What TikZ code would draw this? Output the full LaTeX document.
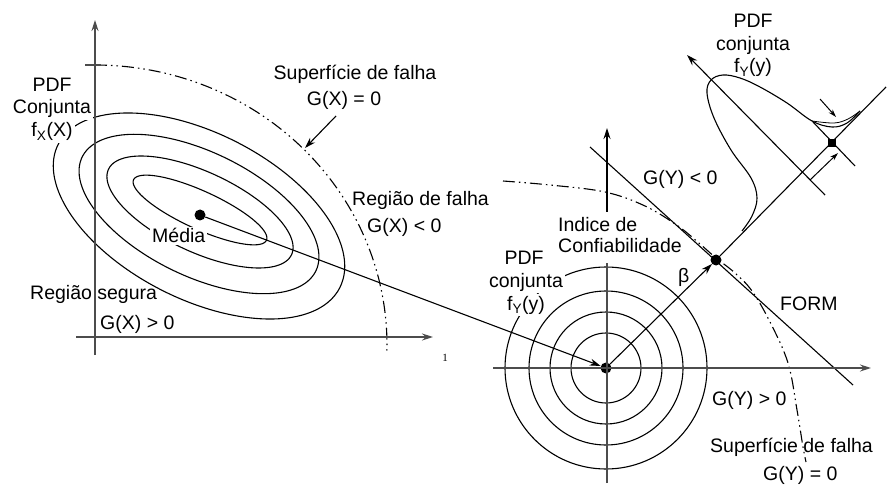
\documentclass[tikz,border=0pt]{standalone}
\usepackage{fontspec}
\setmainfont{Liberation Sans}
\newfontfamily\seriffont{Liberation Serif}
\usetikzlibrary{arrows.meta}
\begin{document}
\begin{tikzpicture}[x=1pt,y=-1pt,
  txt/.style={font=\fontsize{19.5}{22.5}\selectfont, inner sep=0pt, anchor=base},
  txtw/.style={txt, anchor=base west},
  wbox/.style={fill=white, inner sep=2pt},
  curve/.style={line width=1.1pt},
  ax/.style={line width=1.3pt, black!70},
  arr/.style={-{Stealth[length=11pt,width=7pt]}},
  sarr/.style={-{Stealth[length=8pt,width=5pt]}},
  ddd/.style={line width=1.1pt, dash pattern=on 12pt off 4pt on 1.5pt off 4pt on 1.5pt off 4pt},
  bigdot/.style={circle, fill=black, inner sep=0pt, minimum size=11pt},
]
\useasboundingbox (0,0) rectangle (888,486);

% ---------- left panel: joint PDF contours ----------
\foreach \cx/\cy/\a/\b/\r in {199/216/158/83/27, 199/214/130/62/26, 200/212/101/40/25, 200/210/73/19/24.5}
  \draw[curve] plot[domain=0:360, samples=120, smooth, variable=\t]
    ({\cx + \a*cos(\t)*cos(\r) - \b*sin(\t)*sin(\r)}, {\cy + \a*cos(\t)*sin(\r) + \b*sin(\t)*cos(\r)}) -- cycle;

% failure surface G(X)=0
\draw[ddd] plot[domain=-90:1.5, samples=60, smooth, variable=\t] ({95 + 292*cos(\t)}, {345 + 280*sin(\t)});

% ---------- right panel: standard normal contours ----------
\node[bigdot] (O) at (606,368) {};
\foreach \r in {35,56,77,101} \draw[curve] (O.center) circle[radius=\r];

% labels that interrupt curves
\node[txt, wbox] (pdfA) at (52,92) {PDF};
\node[txt, wbox] (pdfB) at (52,114) {Conjunta};
\node[txt, wbox] (pdfC) at (52,137) {f\textsubscript{X}(X)};
\node[txtw, wbox] (media) at (150,243) {Média};
\node[txt, wbox] (rpdfA) at (524,265) {PDF};
\node[txt, wbox] (rpdfB) at (526,287) {conjunta};
\node[txt, wbox] (rpdfC) at (526,310) {f\textsubscript{Y}(y)};

% other labels, left
\node[txt] (sup1) at (355,80) {Superfície de falha};
\node[txt] (g1) at (344,106) {G(X) = 0};
\node[txtw] (rf1) at (352,206) {Região de falha};
\node[txtw] (g2) at (367,233) {G(X) < 0};
\node[txtw] (rs) at (30,299) {Região segura};
\node[txtw] (g3) at (100,329) {G(X) > 0};
\node[font=\seriffont\fontsize{11}{12}\selectfont, anchor=base, inner sep=0pt] (one) at (445,361) {1};

% other labels, right
\node[txt] (tpdfA) at (753,28) {PDF};
\node[txt] (tpdfB) at (753,51) {conjunta};
\node[txt] (tpdfC) at (753,73) {f\textsubscript{Y}(y)};
\node[txtw] (gy1) at (643,185) {G(Y) < 0};
\node[txtw] (ind1) at (558,232) {Indice de};
\node[txtw] (ind2) at (558,252) {Confiabilidade};
\node[txtw] (beta) at (678,282) {β};
\node[txtw] (form) at (780,310) {FORM};
\node[txtw] (gy2) at (712,405) {G(Y) > 0};
\node[txtw] (sup2) at (710,452) {Superfície de falha};
\node[txtw] (gy3) at (763,480) {G(Y) = 0};

% pointer to failure surface
\coordinate (ptA) at (336,116);
\coordinate (ptB) at (305,148);
\draw[curve, arr] (ptA) -- (ptB);

% mean and transformation arrow
\node[bigdot] (M) at (200,215) {};
\draw[curve, arr] (M) -- (O);

% design point and beta
\node[bigdot] (P) at (716,260) {};
\coordinate (bend) at (886,87);
\draw[curve, arr] (O) -- (P);
\draw[curve] (P) -- (bend);

% FORM tangent
\coordinate (f1) at (590,147);
\coordinate (f2) at (853,385);
\draw[curve] (f1) -- (f2);

% failure surface G(Y)=0
\draw[ddd] plot[smooth, tension=0.6] coordinates {(503,181) (550,185) (605,192) (645,206) (678,226) (700,244) (716,258) (735,273) (752,291) (770,322) (788,363) (797,410) (803,447) (806,462)};

% PDF along beta direction
\draw[curve] plot[smooth, tension=0.6] coordinates {(742,231) (752,216) (757,198) (751,178) (731,150) (714,118) (707,93) (711,80) (723,75) (740,78) (760,87) (787,103) (812,121) (832,127) (847,123) (860,111)};
\draw[line width=0.8pt] plot[smooth, tension=0.6] coordinates {(812,121) (834,123) (848,119) (860,111)};
\coordinate (da1) at (825,195);
\coordinate (da2) at (687,55);
\draw[curve, arr] (da1) -- (da2);
\node[fill=black, rectangle, inner sep=0pt, minimum size=8pt] (Q) at (832,143) {};
\coordinate (s1) at (813,122);
\coordinate (s2) at (855,166);
\draw[curve] (s1) -- (s2);
\coordinate (sa1) at (810,180);
\coordinate (sa2) at (838,153);
\draw[line width=1pt, sarr] (sa1) -- (sa2);
\coordinate (ta1) at (820,99);
\coordinate (ta2) at (836,117);
\draw[line width=1pt, sarr] (ta1) -- (ta2);

% ---------- axes ----------
\coordinate (lyb) at (95,355);
\coordinate (lyt) at (95,20);
\coordinate (lxl) at (76,337);
\coordinate (lxr) at (433,337);
\draw[ax, arr] (lyb) -- (lyt);
\draw[ax, arr] (lxl) -- (lxr);
\coordinate (tk1) at (85,65);
\coordinate (tk2) at (101,65);
\draw[ax] (tk1) -- (tk2);

\coordinate (rxl) at (493,368);
\coordinate (rxr) at (871,368);
\coordinate (ryb) at (607,483);
\coordinate (ryt) at (607,263);
\draw[ax, arr] (rxl) -- (rxr);
\draw[ax] (ryb) -- (ryt);
\coordinate (ia1) at (607,212);
\coordinate (ia2) at (607,128);
\draw[curve, arr] (ia1) -- (ia2);
\end{tikzpicture}
\end{document}
